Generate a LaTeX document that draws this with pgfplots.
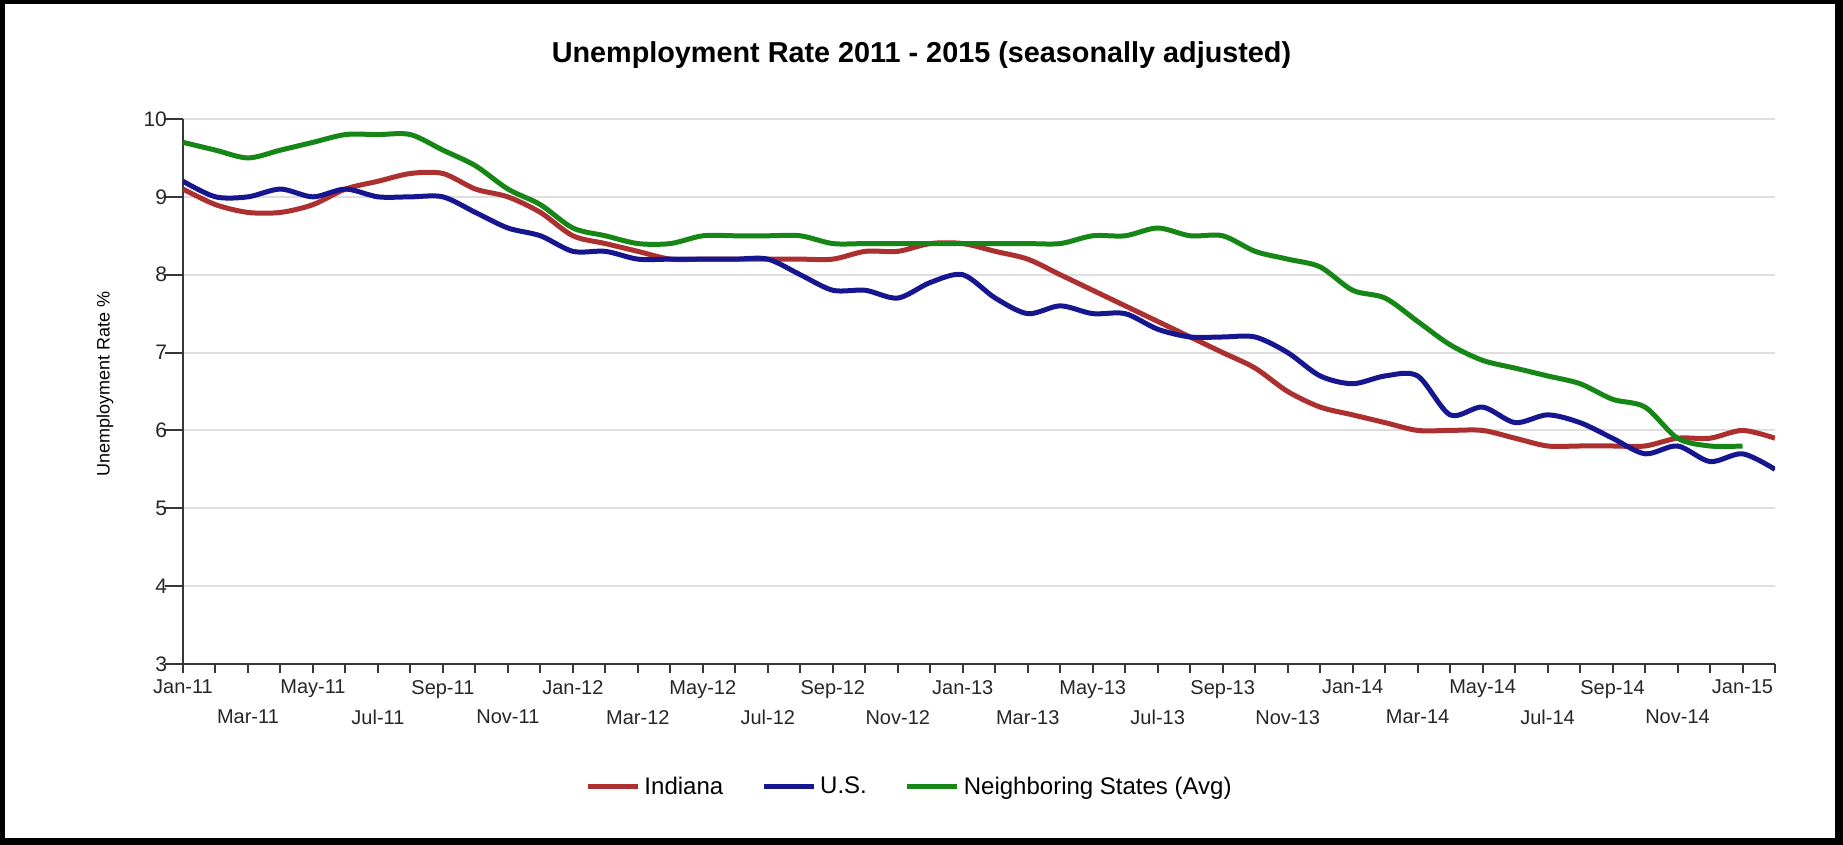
\documentclass[border=0pt]{standalone}
\usepackage{fontspec}
\setmainfont{Liberation Sans}
\usepackage{pgfplots}
\pgfplotsset{compat=1.18}
\definecolor{cInd}{RGB}{172,48,48}
\definecolor{cUS}{RGB}{22,22,145}
\definecolor{cNb}{RGB}{22,135,22}
\definecolor{cGrid}{RGB}{222,222,222}
\definecolor{cAxis}{RGB}{55,55,55}
\begin{document}
\begin{tikzpicture}
\useasboundingbox (0,0) rectangle (921.5pt,422.5pt);
\begin{axis}[
  at={(91.5pt,90.5pt)}, anchor=south west,
  scale only axis, width=796pt, height=272.5pt,
  xmin=0, xmax=49, ymin=3, ymax=10,
  axis x line=bottom, axis y line=left,
  axis line style={-, draw=cAxis, line width=1pt},
  tick align=outside,
  major tick length=4.5pt, minor tick length=4.5pt,
  tick style={draw=cAxis, line width=1pt},
  ytick={3,...,10},
  ytick style={/pgfplots/major tick length=9pt},
  yticklabel style={font=\fontsize{10.5pt}{12pt}\selectfont},
  xtick={0,4,...,48},
  xticklabels={Jan-11,May-11,Sep-11,Jan-12,May-12,Sep-12,Jan-13,May-13,Sep-13,Jan-14,May-14,Sep-14,Jan-15},
  minor xtick={0,...,49},
  extra x ticks={2,6,...,46},
  extra x tick labels={Mar-11,Jul-11,Nov-11,Mar-12,Jul-12,Nov-12,Mar-13,Jul-13,Nov-13,Mar-14,Jul-14,Nov-14},
  extra x tick style={xticklabel style={yshift=-15pt}},
  ymajorgrids, grid style={draw=cGrid, line width=1pt},
  tick label style={font=\fontsize{10pt}{12pt}\selectfont, text=black!85},
  /pgf/number format/assume math mode=true,
  ylabel={Unemployment Rate \%},
  ylabel style={font=\fontsize{9pt}{11pt}\selectfont, at={(axis description cs:-0.049,0.514)}, anchor=center},
  legend columns=3,
  legend style={at={(axis description cs:0.457,-0.2257)}, anchor=center, draw=none,
    font=\fontsize{12pt}{14pt}\selectfont,
    /tikz/every even column/.append style={column sep=17pt}},
  legend image code/.code={\draw[#1, line width=2.5pt] (0pt,0pt) -- (25pt,0pt);},
]
\addplot[cInd, line width=2.5pt, smooth, tension=0.5] coordinates {
(0,9.1) (1,8.9) (2,8.8) (3,8.8) (4,8.9) (5,9.1) (6,9.2) (7,9.3) (8,9.3) (9,9.1)
(10,9.0) (11,8.8) (12,8.5) (13,8.4) (14,8.3) (15,8.2) (16,8.2) (17,8.2) (18,8.2) (19,8.2)
(20,8.2) (21,8.3) (22,8.3) (23,8.4) (24,8.4) (25,8.3) (26,8.2) (27,8.0) (28,7.8) (29,7.6)
(30,7.4) (31,7.2) (32,7.0) (33,6.8) (34,6.5) (35,6.3) (36,6.2) (37,6.1) (38,6.0) (39,6.0)
(40,6.0) (41,5.9) (42,5.8) (43,5.8) (44,5.8) (45,5.8) (46,5.9) (47,5.9) (48,6.0) (49,5.9)
};
\addlegendentry{Indiana}
\addplot[cUS, line width=2.5pt, smooth, tension=0.5] coordinates {
(0,9.2) (1,9.0) (2,9.0) (3,9.1) (4,9.0) (5,9.1) (6,9.0) (7,9.0) (8,9.0) (9,8.8)
(10,8.6) (11,8.5) (12,8.3) (13,8.3) (14,8.2) (15,8.2) (16,8.2) (17,8.2) (18,8.2) (19,8.0)
(20,7.8) (21,7.8) (22,7.7) (23,7.9) (24,8.0) (25,7.7) (26,7.5) (27,7.6) (28,7.5) (29,7.5)
(30,7.3) (31,7.2) (32,7.2) (33,7.2) (34,7.0) (35,6.7) (36,6.6) (37,6.7) (38,6.7) (39,6.2)
(40,6.3) (41,6.1) (42,6.2) (43,6.1) (44,5.9) (45,5.7) (46,5.8) (47,5.6) (48,5.7) (49,5.5)
};
\addlegendentry{U.S.}
\addplot[cNb, line width=2.5pt, smooth, tension=0.5] coordinates {
(0,9.7) (1,9.6) (2,9.5) (3,9.6) (4,9.7) (5,9.8) (6,9.8) (7,9.8) (8,9.6) (9,9.4)
(10,9.1) (11,8.9) (12,8.6) (13,8.5) (14,8.4) (15,8.4) (16,8.5) (17,8.5) (18,8.5) (19,8.5)
(20,8.4) (21,8.4) (22,8.4) (23,8.4) (24,8.4) (25,8.4) (26,8.4) (27,8.4) (28,8.5) (29,8.5)
(30,8.6) (31,8.5) (32,8.5) (33,8.3) (34,8.2) (35,8.1) (36,7.8) (37,7.7) (38,7.4) (39,7.1)
(40,6.9) (41,6.8) (42,6.7) (43,6.6) (44,6.4) (45,6.3) (46,5.9) (47,5.8) (48,5.8)
};
\addlegendentry{Neighboring States (Avg)}
\end{axis}
\node[anchor=base, font=\bfseries\fontsize{14.4pt}{17pt}\selectfont] at (460.75pt,391pt) {Unemployment Rate 2011 - 2015 (seasonally adjusted)};
\fill (0pt,0pt) rectangle (2.5pt,422.5pt);
\fill (0pt,420.5pt) rectangle (921.5pt,422.5pt);
\fill (917.5pt,0pt) rectangle (921.5pt,422.5pt);
\fill (0pt,0pt) rectangle (921.5pt,3.5pt);
\end{tikzpicture}
\end{document}
